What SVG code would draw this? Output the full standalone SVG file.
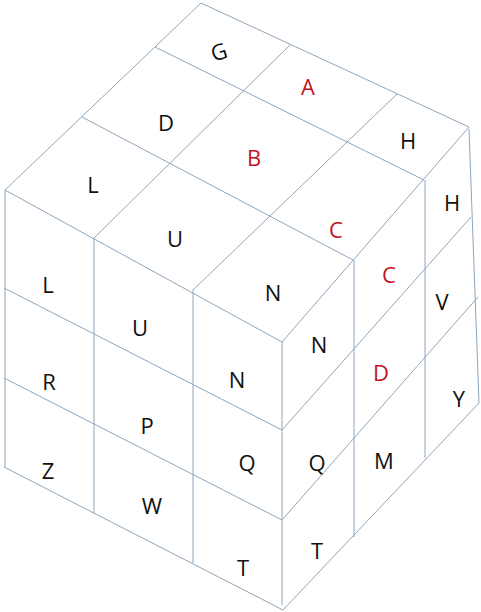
<svg xmlns="http://www.w3.org/2000/svg" width="481" height="612" viewBox="0 0 481 612">
<style>
.ln{stroke:#8ea6bd;stroke-width:1;fill:none}
text{font-family:"Open Sans","Liberation Sans",sans-serif;font-size:22px;text-anchor:middle;fill:#111}
.r{fill:#c0141e}
</style>
<rect width="481" height="612" fill="#fff"/>
<g id="lines" class="ln">
<!-- top face -->
<line x1="201" y1="3" x2="469" y2="127"/>
<line x1="155" y1="47" x2="424" y2="180"/>
<line x1="82" y1="117" x2="353" y2="260"/>
<line x1="5" y1="190" x2="282" y2="342"/>
<line x1="5" y1="190" x2="201" y2="3"/>
<line x1="94" y1="238" x2="290" y2="45"/>
<line x1="193" y1="290" x2="397" y2="94"/>
<line x1="282" y1="342" x2="469" y2="127"/>
<!-- right face -->
<line x1="282" y1="342" x2="282" y2="605"/>
<line x1="354" y1="260" x2="354" y2="537"/>
<line x1="425" y1="180" x2="425" y2="458"/>
<line x1="469" y1="129" x2="479" y2="403"/>
<line x1="282" y1="430" x2="471" y2="217"/>
<line x1="282" y1="520" x2="478" y2="297"/>
<line x1="283" y1="610" x2="479" y2="403"/>
<!-- left face -->
<line x1="5" y1="190" x2="5" y2="467"/>
<line x1="94" y1="238" x2="94" y2="513"/>
<line x1="193" y1="290" x2="193" y2="563"/>
<line x1="4" y1="288" x2="282" y2="430"/>
<line x1="4" y1="378" x2="282" y2="520"/>
<line x1="4" y1="467" x2="283" y2="610"/>
</g>
<g id="top">
<text x="219" y="60" transform="rotate(-18 219 52)">G</text>
<text x="308" y="95" class="r">A</text>
<text x="408" y="149">H</text>
<text x="166" y="131">D</text>
<text x="254" y="166" class="r">B</text>
<text x="336" y="238" class="r">C</text>
<text x="93" y="193">L</text>
<text x="175" y="247">U</text>
<text x="273" y="301">N</text>
</g>
<g id="right">
<text x="452" y="211">H</text>
<text x="389" y="283" class="r">C</text>
<text x="319" y="353">N</text>
<text x="442" y="310">V</text>
<text x="381" y="381" class="r">D</text>
<text x="317" y="471">Q</text>
<text x="459" y="407">Y</text>
<text x="384" y="469">M</text>
<text x="317" y="559">T</text>
</g>
<g id="left">
<text x="48" y="293">L</text>
<text x="140" y="336">U</text>
<text x="237" y="388">N</text>
<text x="49" y="390">R</text>
<text x="147" y="434">P</text>
<text x="247" y="471">Q</text>
<text x="48" y="479">Z</text>
<text x="152" y="514">W</text>
<text x="243" y="576">T</text>
</g>
</svg>
